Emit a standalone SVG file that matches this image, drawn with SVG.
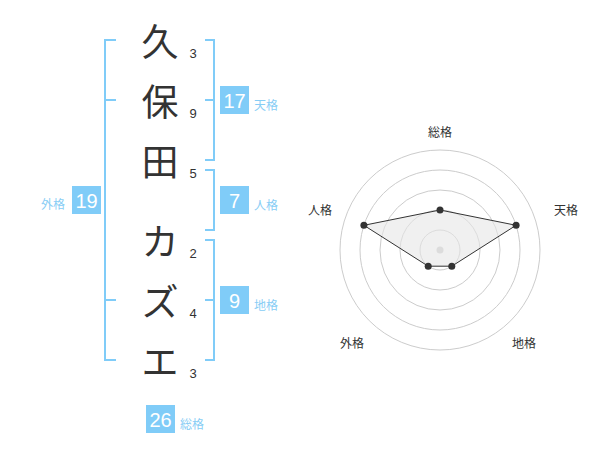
<svg xmlns="http://www.w3.org/2000/svg" width="600" height="470" viewBox="0 0 600 470">
<style>
.kanji{font-family:"Noto Sans CJK JP","Noto Sans CJK SC",sans-serif;font-size:37px;fill:#333;text-anchor:middle;dominant-baseline:central}
.num{font-family:"Liberation Sans",Arial,sans-serif;font-size:13px;fill:#333;text-anchor:middle;dominant-baseline:central}
.br{fill:none;stroke:#80ccf8;stroke-width:2}
.box{fill:#80ccf8}
.bn{font-family:"Liberation Sans",Arial,sans-serif;font-size:20px;fill:#fff;text-anchor:middle;dominant-baseline:central}
.lab{font-family:"Noto Sans CJK JP",sans-serif;font-size:12px;fill:#88cdf5;dominant-baseline:central}
.rl{font-family:"Noto Sans CJK JP",sans-serif;font-size:12px;fill:#333;text-anchor:middle;dominant-baseline:central}
.ring{fill:none;stroke:#ccc;stroke-width:1}
.pt{fill:#333}
</style>
<g id="name">
<text class="kanji" x="160" y="40">久</text>
<text class="kanji" x="160" y="100">保</text>
<text class="kanji" x="160" y="160">田</text>
<text class="kanji" x="160" y="240">カ</text>
<text class="kanji" x="160" y="300">ズ</text>
<text class="kanji" x="160" y="360">エ</text>
</g>
<g id="strokes">
<text class="num" x="193" y="53">3</text>
<text class="num" x="193" y="113">9</text>
<text class="num" x="193" y="173">5</text>
<text class="num" x="193" y="253">2</text>
<text class="num" x="193" y="313">4</text>
<text class="num" x="193" y="373">3</text>
</g>
<g id="connectors">
<path class="br" d="M116,40 H105 V360 H116 M105,100 H116 M105,300 H116"/>
<path class="br" d="M205,40 H214 V160 H205 M205,100 H214"/>
<path class="br" d="M205,170 H214 V230 H205"/>
<path class="br" d="M205,240 H214 V360 H205 M205,300 H214"/>
</g>
<g id="gaikaku">
<rect class="box" x="72" y="186" width="29" height="28"/>
<text class="bn" x="86.5" y="200.5">19</text>
<text class="lab" x="41" y="203">外格</text>
</g>
<g id="tenkaku">
<rect class="box" x="220" y="86" width="29" height="28"/>
<text class="bn" x="234.5" y="100.5">17</text>
<text class="lab" x="254" y="104">天格</text>
</g>
<g id="jinkaku">
<rect class="box" x="220" y="186" width="29" height="28"/>
<text class="bn" x="234.5" y="200.5">7</text>
<text class="lab" x="254" y="204">人格</text>
</g>
<g id="chikaku">
<rect class="box" x="220" y="286" width="29" height="28"/>
<text class="bn" x="234.5" y="300.5">9</text>
<text class="lab" x="254" y="304">地格</text>
</g>
<g id="soukaku">
<rect class="box" x="146" y="405" width="29" height="28"/>
<text class="bn" x="160.5" y="419.5">26</text>
<text class="lab" x="180" y="423">総格</text>
</g>
<g id="radar">
<circle class="ring" cx="440" cy="250" r="20"/>
<circle class="ring" cx="440" cy="250" r="40"/>
<circle class="ring" cx="440" cy="250" r="60"/>
<circle class="ring" cx="440" cy="250" r="80"/>
<circle class="ring" cx="440" cy="250" r="100"/>
<circle cx="440" cy="250" r="3.5" fill="#ccc"/>
<polygon points="440,210 516.1,225.3 451.8,266.2 428.2,266.2 363.9,225.3" fill="#e6e6e6" fill-opacity="0.6" stroke="#333" stroke-width="1"/>
<circle class="pt" cx="440" cy="210" r="3.5"/>
<circle class="pt" cx="516.1" cy="225.3" r="3.5"/>
<circle class="pt" cx="451.8" cy="266.2" r="3.5"/>
<circle class="pt" cx="428.2" cy="266.2" r="3.5"/>
<circle class="pt" cx="363.9" cy="225.3" r="3.5"/>
<text class="rl" x="440" y="131">総格</text>
<text class="rl" x="566" y="209">天格</text>
<text class="rl" x="320" y="209">人格</text>
<text class="rl" x="352" y="342">外格</text>
<text class="rl" x="524" y="342">地格</text>
</g>
</svg>
